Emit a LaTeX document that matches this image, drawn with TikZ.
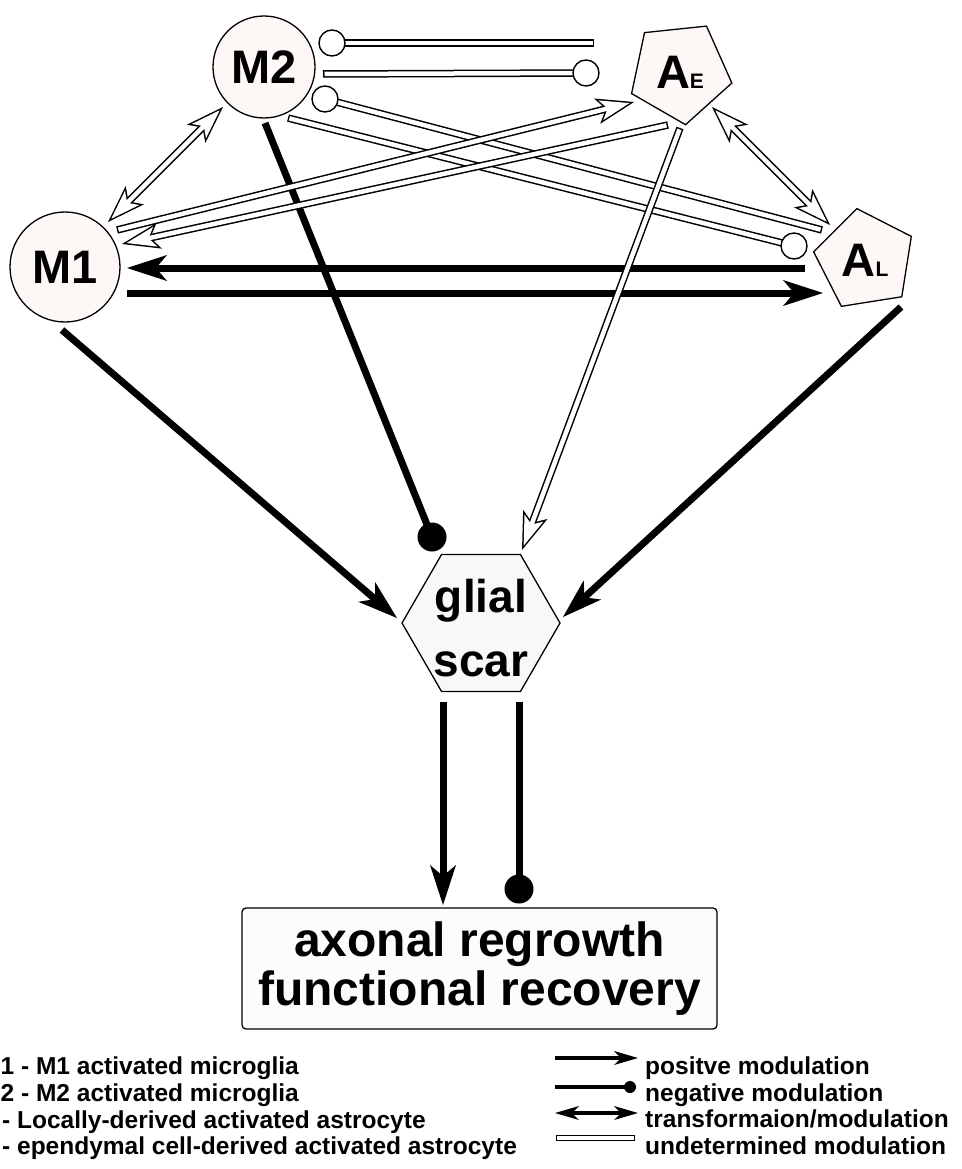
\documentclass[tikz,border=0pt]{standalone}
\usepackage{fontspec}
\setmainfont{Liberation Sans}
\usetikzlibrary{arrows.meta,shapes.geometric}
\definecolor{cellfill}{RGB}{253,248,246}
\definecolor{scarfill}{RGB}{248,248,248}
\definecolor{boxfill}{RGB}{253,251,251}
\newcommand{\bsz}[2]{\fontsize{#1}{#2}\selectfont\bfseries}
\newcommand{\hlarrow}[2]{%
  \draw[holout,-{houter}] (#1) -- (#2);
  \draw[holin,-{hinner},shorten <=1.5pt,shorten >=4.63pt] (#1) -- (#2);}
\newcommand{\hldouble}[2]{%
  \draw[holout,{houter}-{houter}] (#1) -- (#2);
  \draw[holin,{hinner}-{hinner},shorten <=4.63pt,shorten >=4.63pt] (#1) -- (#2);}
\newcommand{\hlplain}[2]{%
  \draw[holout] (#1) -- (#2);
  \draw[holin,shorten <=1.5pt,shorten >=1.5pt] (#1) -- (#2);}
\tikzset{
  cell/.style={draw=black, line width=1.3pt, fill=cellfill, inner sep=0pt},
  microglia/.style={cell, circle},
  astro/.style={cell, regular polygon, regular polygon sides=5},
  strong/.style={line width=7pt, line cap=butt, black},
  bighead/.tip={Stealth[length=40pt,width=26pt,inset=11pt,line width=0pt]},
  houter/.tip={Stealth[length=38pt,width=26pt,inset=9pt,line width=0pt]},
  hinner/.tip={Stealth[length=29.5pt,width=20.2pt,inset=7pt,line width=0pt]},
  smallhead/.tip={Stealth[length=24pt,width=14pt,inset=7pt,line width=0pt]},
  holout/.style={line width=7.5pt, black, line cap=butt},
  holin/.style={line width=4.5pt, white, line cap=butt},
  blob/.style={circle, fill=black, inner sep=0pt, minimum size=29pt},
  ring/.style={circle, draw=black, fill=white, line width=1.4pt, inner sep=0pt, minimum size=26pt},
  legtext/.style={anchor=base west, inner sep=0pt, font=\bsz{24.5}{26}},
}
\begin{document}
\begin{tikzpicture}[x=1pt,y=-1pt]
\useasboundingbox (0,0) rectangle (961,1169);
% ---------- nodes
\node[microglia, minimum size=102pt] (M2) at (264,67) {\bsz{47}{47}M2};
\node[microglia, minimum size=110pt] (M1) at (65,267) {\bsz{47}{47}M1};
\node[astro, minimum size=106pt, shape border rotate=-30] (AE) at (680,72) {\bsz{47}{47}A\bsz{21}{21}E};
\node[astro, minimum size=104pt, shape border rotate=9] (AL) at (865,260) {\bsz{47}{47}A\bsz{21}{21}L};
\node[cell, fill=scarfill, regular polygon, regular polygon sides=6, minimum size=158pt] (scar) at (481,623) {};
\node[align=center, font=\bsz{46}{64}, inner sep=0pt] (scartext) at (481,628) {glial\\scar};
\node[draw=black, line width=1.3pt, fill=boxfill, rounded corners=4pt, minimum width=475pt, minimum height=121pt, align=center, font=\bsz{48}{49}, inner sep=0pt] (out) at (479.5,968.5) {axonal regrowth\\functional recovery};
% ---------- end points
\coordinate (ALa) at (805,268); \coordinate (M1a) at (127,268);
\coordinate (M1b) at (127,293); \coordinate (ALb) at (823,293);
\coordinate (M1c) at (62,330);  \coordinate (scarL) at (397,618);
\coordinate (ALc) at (901,307); \coordinate (scarR) at (563,617);
\coordinate (M2c) at (265,123); \coordinate (scarN) at (432,537);
\coordinate (scarB1) at (443,702); \coordinate (outA) at (443,905);
\coordinate (scarB2) at (519,702); \coordinate (outN) at (519,889);
\coordinate (M2h) at (332,43);  \coordinate (AEh) at (594,43);
\coordinate (M2i) at (323,74);  \coordinate (AEi) at (586,73);
\coordinate (M2j) at (325,99);  \coordinate (ALj) at (822,230);
\coordinate (M2k) at (288,118); \coordinate (ALk) at (794,246);
\coordinate (M1l) at (117,230); \coordinate (AEl) at (634,102);
\coordinate (AEm) at (668,125); \coordinate (M1m) at (122,244);
\coordinate (AEn) at (680,128); \coordinate (scarT) at (522,550);
\coordinate (M1o) at (108,222); \coordinate (M2o) at (223,107);
\coordinate (AEp) at (712,107); \coordinate (ALp) at (830,225);
% ---------- strong connectors
\draw[strong,-{bighead}] (ALa) -- (M1a);
\draw[strong,-{bighead}] (M1b) -- (ALb);
\draw[strong,-{bighead}] (M1c) -- (scarL);
\draw[strong,-{bighead}] (ALc) -- (scarR);
\draw[strong] (M2c) -- (scarN);
\node[blob] (negscar) at (scarN) {};
\draw[strong,-{bighead}] (scarB1) -- (outA);
\draw[strong] (scarB2) -- (outN);
\node[blob] (negout) at (outN) {};
% ---------- undetermined connectors
\hlplain{M2h}{AEh}
\node[ring] (rh) at (M2h) {};
\hlplain{M2i}{AEi}
\node[ring] (ri) at (AEi) {};
\hlplain{M2j}{ALj}
\node[ring] (rj) at (M2j) {};
\hlplain{M2k}{ALk}
\node[ring] (rk) at (ALk) {};
\hlarrow{M1l}{AEl}
\hlarrow{AEm}{M1m}
\hlarrow{AEn}{scarT}
\hldouble{M1o}{M2o}
\hldouble{AEp}{ALp}
% ---------- legend
\node[legtext] (k1) at (0.5,1074) {1 - M1 activated microglia};
\node[legtext] (k2) at (0.5,1101) {2 - M2 activated microglia};
\node[legtext] (k3) at (2,1128) {- Locally-derived activated astrocyte};
\node[legtext] (k4) at (2,1154) {- ependymal cell-derived activated astrocyte};
\node[legtext] (t1) at (645,1074) {positve modulation};
\node[legtext] (t2) at (645,1101) {negative modulation};
\node[legtext] (t3) at (645,1127) {transformaion/modulation};
\node[legtext] (t4) at (645,1154) {undetermined modulation};
\coordinate (p1a) at (555,1058); \coordinate (p1b) at (638,1058);
\coordinate (p2a) at (555,1087); \coordinate (p2b) at (630,1087);
\coordinate (p3a) at (555,1113); \coordinate (p3b) at (638,1113);
\coordinate (p4a) at (556,1138); \coordinate (p4b) at (635,1138);
\draw[line width=4pt,-{smallhead}] (p1a) -- (p1b);
\draw[line width=4pt] (p2a) -- (p2b);
\node[circle, fill=black, inner sep=0pt, minimum size=12pt] (p2c) at (p2b) {};
\draw[line width=4pt,{smallhead}-{smallhead}] (p3a) -- (p3b);
\draw[line width=5.5pt] (p4a) -- (p4b);
\draw[white, line width=3.1pt, shorten <=1.2pt, shorten >=1.2pt] (p4a) -- (p4b);
\end{tikzpicture}
\end{document}
